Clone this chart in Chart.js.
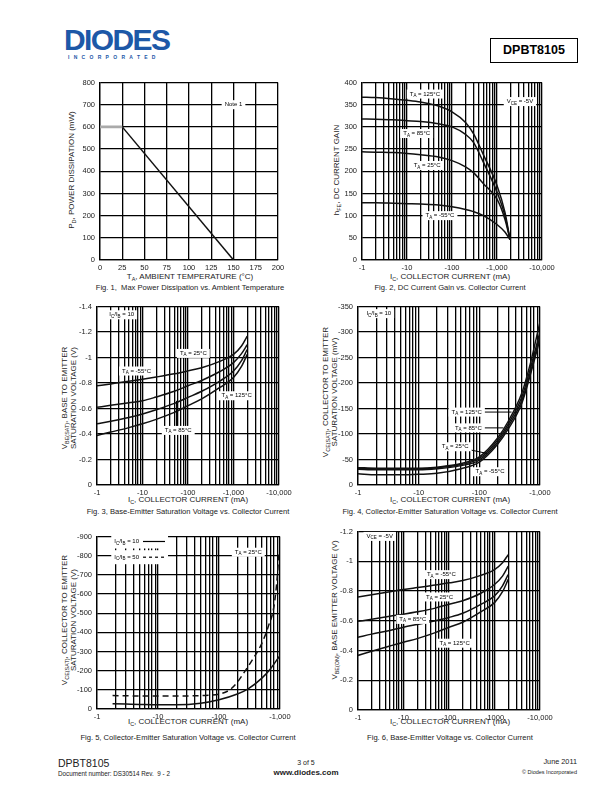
<!DOCTYPE html>
<html>
<head>
<meta charset="utf-8">
<title>DPBT8105 typical characteristics</title>
<script src="https://cdn.jsdelivr.net/npm/chart.js@4.4.1/dist/chart.umd.min.js"></script>
<style>
  html, body { margin: 0; padding: 0; }
  body { width: 612px; height: 792px; position: relative; overflow: hidden; background: #fff;
         font-family: "Liberation Sans", Arial, Helvetica, sans-serif; color: #222; }
  canvas { position: absolute; }
  .t { position: absolute; white-space: nowrap; line-height: 1; transform: translate(-50%, -50%); }
  .l { position: absolute; white-space: nowrap; line-height: 1; transform: translate(0, -50%); }
  .r { position: absolute; white-space: nowrap; line-height: 1; transform: translate(-100%, -50%); }
  .rot { transform: translate(-50%, -50%) rotate(-90deg); }
  .ax { font-size: 8px; }
  .cap { font-size: 7.6px; }
  sub { font-size: 68%; vertical-align: -0.3em; line-height: 0; }
  .logo { position: absolute; left: 64px; top: 25px; font-weight: bold; font-size: 30px; color: #1d58a7;
          letter-spacing: -1.6px; line-height: 1; }
  .inc { position: absolute; left: 68px; top: 55px; font-size: 5px; font-weight: bold; color: #1d58a7;
         letter-spacing: 4.3px; line-height: 1; }
  .part { position: absolute; left: 490px; top: 38px; width: 86px; height: 23px; border: 1px solid #000;
          font-weight: bold; font-size: 12.5px; line-height: 23px; text-align: center; color: #000; }
</style>
</head>
<body>
<div class="logo">DIODES</div>
<div class="inc">INCORPORATED</div>
<div class="part">DPBT8105</div>

<!-- Fig. 1 -->
<div class="t ax rot" style="left:72px; top:170px">P<sub>D</sub>, POWER DISSIPATION (mW)</div>
<div class="t ax" style="left:190px; top:277px">T<sub>A</sub>, AMBIENT TEMPERATURE (°C)</div>
<div class="t cap" style="left:190px; top:288px">Fig. 1, &nbsp;Max Power Dissipation vs. Ambient Temperature</div>

<!-- Fig. 2 -->
<div class="t ax rot" style="left:337px; top:170px">h<sub>FE</sub>, DC CURRENT GAIN</div>
<div class="t ax" style="left:450px; top:277px">I<sub>C</sub>, COLLECTOR CURRENT (mA)</div>
<div class="t cap" style="left:450px; top:288px">Fig. 2, DC Current Gain vs. Collector Current</div>

<!-- Fig. 3 -->
<div class="t ax rot" style="left:65px; top:398px">V<sub>BE(SAT)</sub>, BASE TO EMITTER</div>
<div class="t ax rot" style="left:74px; top:398px">SATURATION VOLTAGE (V)</div>
<div class="t ax" style="left:188px; top:500px">I<sub>C</sub>, COLLECTOR CURRENT (mA)</div>
<div class="t cap" style="left:188px; top:512px">Fig. 3, Base-Emitter Saturation Voltage vs. Collector Current</div>

<!-- Fig. 4 -->
<div class="t ax rot" style="left:326px; top:392px">V<sub>CE(SAT)</sub>, COLLECTOR TO EMITTER</div>
<div class="t ax rot" style="left:335px; top:392px">SATURATION VOLTAGE (mV)</div>
<div class="t ax" style="left:450px; top:500px">I<sub>C</sub>, COLLECTOR CURRENT (mA)</div>
<div class="t cap" style="left:450px; top:512px">Fig. 4, Collector-Emitter Saturation Voltage vs. Collector Current</div>

<!-- Fig. 5 -->
<div class="t ax rot" style="left:65px; top:620px">V<sub>CE(SAT)</sub>, COLLECTOR TO EMITTER</div>
<div class="t ax rot" style="left:74px; top:620px">SATURATION VOLTAGE (V)</div>
<div class="t ax" style="left:188px; top:722px">I<sub>C</sub>, COLLECTOR CURRENT (mA)</div>
<div class="t cap" style="left:188px; top:738px">Fig. 5, Collector-Emitter Saturation Voltage vs. Collector Current</div>

<!-- Fig. 6 -->
<div class="t ax rot" style="left:335px; top:610px">V<sub>BE(ON)</sub>, BASE EMITTER VOLTAGE (V)</div>
<div class="t ax" style="left:450px; top:722px">I<sub>C</sub>, COLLECTOR CURRENT (mA)</div>
<div class="t cap" style="left:450px; top:738px">Fig. 6, Base-Emitter Voltage vs. Collector Current</div>

<!-- footer -->
<div class="l" style="left:58px; top:763px; font-size:10.5px">DPBT8105</div>
<div class="l" style="left:58px; top:774px; font-size:6.3px">Document number: DS30514 Rev. &nbsp;9 - 2</div>
<div class="t" style="left:306px; top:762px; font-size:7px">3 of 5</div>
<div class="t" style="left:306px; top:773px; font-size:8px; font-weight:bold">www.diodes.com</div>
<div class="r" style="left:577px; top:762px; font-size:7.3px">June 2011</div>
<div class="r" style="left:577px; top:773px; font-size:5.5px">© Diodes Incorporated</div>

<script>
const FONT = '"Liberation Sans", Arial, sans-serif';

// ---- Fig. 1: power derating ----
const fig1FlatTemp = [0, 25];
const fig1FlatPower = [600, 600];
const fig1DerateTemp = [25, 150];
const fig1DeratePower = [600, 0];

// ---- Fig. 2: hFE vs Ic (mA, magnitude) ----
const fig2Ic     = [1, 2, 5, 10, 20, 50, 100, 200, 300, 500, 1000, 1500, 1950];
const fig2Hfe125 = [367, 366, 363, 360, 356, 347, 334, 310, 285, 237, 168, 108, 46];
const fig2Hfe85  = [318, 317, 316, 314, 312, 307, 300, 283, 265, 220, 153, 100, 46];
const fig2Hfe25  = [244, 243, 242, 240, 237, 232, 224, 210, 197, 172, 137, 92, 46];
const fig2HfeM55 = [129, 129, 128, 127, 126, 124, 120, 114, 109, 100, 80, 63, 46];

// ---- Fig. 3: VBE(sat) magnitude (V) ----
const fig3Ic     = [1, 2, 5, 10, 20, 50, 100, 200, 500, 1000, 1500, 2000];
const fig3VbeM55 = [0.778, 0.793, 0.813, 0.83, 0.847, 0.872, 0.895, 0.92, 0.97, 1.024, 1.09, 1.167];
const fig3Vbe25  = [0.609, 0.625, 0.645, 0.66, 0.69, 0.735, 0.778, 0.82, 0.89, 0.96, 1.03, 1.10];
const fig3Vbe85  = [0.48, 0.50, 0.53, 0.557, 0.59, 0.64, 0.687, 0.735, 0.815, 0.894, 0.975, 1.063];
const fig3Vbe125 = [0.389, 0.415, 0.45, 0.48, 0.515, 0.57, 0.622, 0.675, 0.765, 0.843, 0.93, 1.024];

// ---- Fig. 4: VCE(sat) magnitude (mV) ----
const fig4Ic     = [1, 2, 5, 10, 20, 50, 100, 200, 300, 500, 700, 1000];
const fig4Vce125 = [34, 33, 33, 33, 35, 42, 55, 92, 125, 180, 240, 320];
const fig4Vce85  = [33, 32, 32, 32, 34, 40, 52, 88, 120, 172, 230, 300];
const fig4Vce25  = [31, 30, 30, 30, 32, 38, 49, 84, 115, 165, 222, 292];
const fig4VceM55 = [22, 20, 20, 21, 23, 32, 45, 80, 110, 160, 218, 286];

// ---- Fig. 5: VCE(sat) magnitude (mV), TA = 25C ----
const fig5IcB10  = [1.8, 3, 5, 10, 20, 50, 100, 200, 300, 500, 700, 1000];
const fig5VceB10 = [28, 26, 24, 22, 22, 30, 48, 78, 105, 160, 210, 280];
const fig5IcB50  = [1.8, 3, 5, 10, 20, 50, 100, 150, 200, 270, 350, 500, 650, 780, 880, 960];
const fig5VceB50 = [70, 69, 68, 68, 68, 70, 78, 100, 140, 200, 255, 340, 435, 520, 650, 815];

// ---- Fig. 6: VBE(on) magnitude (V), VCE = -5V ----
const fig6Ic     = [1, 2, 5, 10, 20, 50, 100, 200, 500, 1000, 1500, 2000];
const fig6VbeM55 = [0.76, 0.775, 0.795, 0.81, 0.823, 0.84, 0.855, 0.87, 0.905, 0.944, 0.99, 1.044];
const fig6Vbe25  = [0.596, 0.61, 0.63, 0.644, 0.66, 0.685, 0.711, 0.735, 0.785, 0.844, 0.90, 0.967];
const fig6Vbe85  = [0.489, 0.51, 0.535, 0.556, 0.575, 0.60, 0.622, 0.65, 0.71, 0.767, 0.835, 0.911];
const fig6Vbe125 = [0.367, 0.395, 0.43, 0.456, 0.48, 0.52, 0.556, 0.59, 0.66, 0.722, 0.795, 0.878];

// tick labels
const logLabels4 = ['-1', '-10', '-100', '-1,000', '-10,000'];
const logLabels3 = ['-1', '-10', '-100', '-1,000'];
const fig6XLabels = ['-1', '-10', '-100', '-1000', '-10,000'];

// in-plot notes, anchored in data units
const fig1Notes = [{ x: 150, y: 700, text: 'Note 1' }];
const fig2Notes = [
  { x: 25, y: 374, text: 'T_{A} = 125°C' },
  { x: 16.4, y: 285, text: 'T_{A} = 85°C' },
  { x: 28, y: 213, text: 'T_{A} = 25°C' },
  { x: 54, y: 100, text: 'T_{A} = -55°C' },
  { x: 3240, y: 357, text: 'V_{CE} = -5V' }
];
const fig3Notes = [
  { x: 3.5, y: 1.335, text: 'I_{C}/I_{B} = 10' },
  { x: 131, y: 1.032, text: 'T_{A} = 25°C' },
  { x: 7.4, y: 0.894, text: 'T_{A} = -55°C' },
  { x: 1170, y: 0.70, text: 'T_{A} = 125°C' },
  { x: 61, y: 0.428, text: 'T_{A} = 85°C', lead: [56, 0.43, 56, 0.66] }
];
const fig4Notes = [
  { x: 2.2, y: 336, text: 'I_{C}/I_{B} = 10' },
  { x: 62, y: 143, text: 'T_{A} = 125°C', lead: [62, 143, 340, 143] },
  { x: 66, y: 112, text: 'T_{A} = 85°C', lead: [66, 112, 250, 112] },
  { x: 40, y: 75, text: 'T_{A} = 25°C', lead: [40, 75, 133, 62] },
  { x: 150, y: 26, text: 'T_{A} = -55°C' }
];
const fig5Notes = [
  { x: 5, y: 874, text: 'I_{C}/I_{B} = 10', sample: [], padY: 7 },
  { x: 5, y: 792, text: 'I_{C}/I_{B} = 50', sample: [3, 3], padY: 7 },
  { x: 302, y: 818, text: 'T_{A} = 25°C' }
];
const fig6Notes = [
  { x: 3, y: 1.167, text: 'V_{CE} = -5V' },
  { x: 68, y: 0.91, text: 'T_{A} = -55°C' },
  { x: 62, y: 0.76, text: 'T_{A} = 25°C' },
  { x: 16, y: 0.609, text: 'T_{A} = 85°C' },
  { x: 133, y: 0.449, text: 'T_{A} = 125°C' }
];

// ---------------------------------------------------------------------------

const PAD = { l: 34, t: 8, r: 24, b: 16 };
const TICK_FONT = { size: 7.5, family: FONT };

function splitSub(s) {
  const out = [];
  s.split(/(_\{[^}]*\})/).forEach(p => {
    if (!p) return;
    if (p.startsWith('_{')) out.push({ t: p.slice(2, -1), sub: true });
    else out.push({ t: p, sub: false });
  });
  return out;
}

function notesPlugin(notes) {
  return {
    id: 'notes',
    afterDatasetsDraw(chart) {
      const { ctx } = chart;
      const xs = chart.scales.x, ys = chart.scales.y;
      ctx.save();
      notes.forEach(n => {
        if (n.lead) {
          ctx.strokeStyle = '#000';
          ctx.lineWidth = 1;
          ctx.beginPath();
          ctx.moveTo(xs.getPixelForValue(n.lead[0]), ys.getPixelForValue(n.lead[1]));
          ctx.lineTo(xs.getPixelForValue(n.lead[2]), ys.getPixelForValue(n.lead[3]));
          ctx.stroke();
        }
        const parts = splitSub(n.text);
        let w = 0;
        parts.forEach(p => {
          ctx.font = (p.sub ? '4.5px ' : '6px ') + FONT;
          p.w = ctx.measureText(p.t).width;
          w += p.w;
        });
        const sw = n.sample ? 26 : 0;
        const total = w + sw;
        const cx = xs.getPixelForValue(n.x), cy = ys.getPixelForValue(n.y);
        const padY = n.padY || 4.5;
        let px = cx - total / 2;
        ctx.fillStyle = '#fff';
        ctx.fillRect(px - 3, cy - padY, total + 6, padY * 2);
        ctx.fillStyle = '#000';
        ctx.textBaseline = 'middle';
        ctx.textAlign = 'left';
        parts.forEach(p => {
          ctx.font = (p.sub ? '4.5px ' : '6px ') + FONT;
          ctx.fillText(p.t, px, p.sub ? cy + 1.8 : cy);
          px += p.w;
        });
        if (n.sample) {
          ctx.strokeStyle = '#000';
          ctx.lineWidth = 1.2;
          ctx.setLineDash(n.sample);
          ctx.beginPath();
          ctx.moveTo(px + 4, cy);
          ctx.lineTo(px + sw, cy);
          ctx.stroke();
          ctx.setLineDash([]);
        }
      });
      ctx.restore();
    }
  };
}

function gridOpts() {
  return { color: '#000', lineWidth: 1.3, drawTicks: false };
}

function logGrid(min, max) {
  const out = [];
  for (let d = min; d < max; d *= 10) {
    for (let m = 1; m < 10; m++) out.push(Math.round(d * m));
  }
  out.push(max);
  return out;
}

function xLinear(min, max, step) {
  return {
    type: 'linear', position: 'bottom', min, max,
    ticks: { stepSize: step, autoSkip: false, maxRotation: 0, padding: 3, color: '#222', font: TICK_FONT },
    grid: gridOpts(), border: { color: '#000', width: 1.3 },
    afterFit(s) { s.height = PAD.b; }
  };
}

function xLog(min, max, labels) {
  return {
    type: 'logarithmic', position: 'bottom', min, max,
    afterBuildTicks(s) { s.ticks = logGrid(min, max).map(v => ({ value: v })); },
    ticks: {
      autoSkip: false, maxRotation: 0, padding: 3, color: '#222', font: TICK_FONT,
      callback: v => {
        const e = Math.log10(v), r = Math.round(e);
        return Math.abs(e - r) < 1e-6 ? labels[r] : '';
      }
    },
    grid: gridOpts(), border: { color: '#000', width: 1.3 },
    afterFit(s) { s.height = PAD.b; }
  };
}

function yLinear(max, step, neg) {
  return {
    type: 'linear', position: 'left', min: 0, max,
    ticks: {
      stepSize: step, autoSkip: false, padding: 5, color: '#222', font: TICK_FONT,
      callback: v => v === 0 ? '0' : (neg ? '-' : '') + (+v.toFixed(2))
    },
    grid: gridOpts(), border: { color: '#000', width: 1.3 },
    afterFit(s) { s.width = PAD.l; }
  };
}

function curve(xs, ys, extra) {
  return Object.assign({
    data: xs.map((x, i) => ({ x, y: ys[i] })),
    borderColor: '#111', borderWidth: 1.5, pointRadius: 0, fill: false,
    tension: 0.4, cubicInterpolationMode: 'monotone'
  }, extra || {});
}

function plot(box, x, y, datasets, notes) {
  const c = document.createElement('canvas');
  c.width = box.w + PAD.l + PAD.r;
  c.height = box.h + PAD.t + PAD.b;
  c.style.left = (box.x - PAD.l) + 'px';
  c.style.top = (box.y - PAD.t) + 'px';
  document.body.appendChild(c);
  new Chart(c, {
    type: 'line',
    data: { datasets },
    options: {
      responsive: false, animation: false, devicePixelRatio: 1,
      layout: { padding: { top: PAD.t, right: PAD.r, left: 0, bottom: 0 } },
      plugins: { legend: { display: false }, tooltip: { enabled: false } },
      scales: { x, y }
    },
    plugins: [notesPlugin(notes)]
  });
}

// Fig. 1
plot({ x: 100, y: 81, w: 178, h: 179 }, xLinear(0, 200, 25), yLinear(800, 100, false), [
  curve(fig1FlatTemp, fig1FlatPower, { borderColor: '#aaa', borderWidth: 2.6, tension: 0 }),
  curve(fig1DerateTemp, fig1DeratePower, { tension: 0 })
], fig1Notes);

// Fig. 2
plot({ x: 362, y: 81, w: 180, h: 179 }, xLog(1, 10000, logLabels4), yLinear(400, 50, false), [
  curve(fig2Ic, fig2Hfe125), curve(fig2Ic, fig2Hfe85), curve(fig2Ic, fig2Hfe25), curve(fig2Ic, fig2HfeM55)
], fig2Notes);

// Fig. 3
plot({ x: 97, y: 305, w: 182, h: 180 }, xLog(1, 10000, logLabels4), yLinear(1.4, 0.2, true), [
  curve(fig3Ic, fig3VbeM55), curve(fig3Ic, fig3Vbe25), curve(fig3Ic, fig3Vbe85), curve(fig3Ic, fig3Vbe125)
], fig3Notes);

// Fig. 4
plot({ x: 358, y: 305, w: 182, h: 180 }, xLog(1, 1000, logLabels3), yLinear(350, 50, true), [
  curve(fig4Ic, fig4Vce125), curve(fig4Ic, fig4Vce85), curve(fig4Ic, fig4Vce25), curve(fig4Ic, fig4VceM55)
], fig4Notes);

// Fig. 5
plot({ x: 97, y: 535, w: 183, h: 174 }, xLog(1, 1000, logLabels3), yLinear(900, 100, true), [
  curve(fig5IcB10, fig5VceB10),
  curve(fig5IcB50, fig5VceB50, { borderDash: [6, 4] })
], fig5Notes);

// Fig. 6
plot({ x: 358, y: 530, w: 182, h: 180 }, xLog(1, 10000, fig6XLabels), yLinear(1.2, 0.2, true), [
  curve(fig6Ic, fig6VbeM55), curve(fig6Ic, fig6Vbe25), curve(fig6Ic, fig6Vbe85), curve(fig6Ic, fig6Vbe125)
], fig6Notes);
</script>
</body>
</html>
